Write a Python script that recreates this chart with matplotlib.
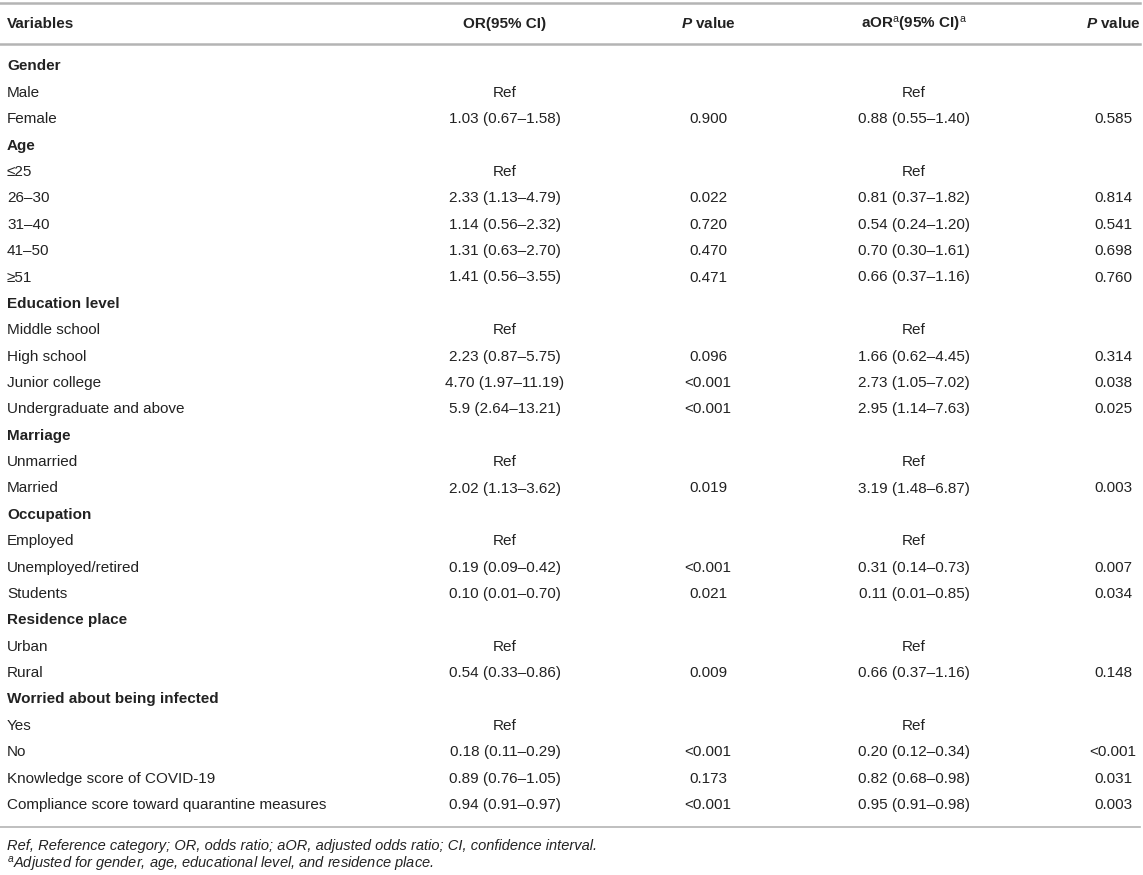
import matplotlib.pyplot as plt

plt.rcParams['font.family'] = ['Liberation Sans', 'DejaVu Sans']
plt.rcParams['mathtext.fontset'] = 'custom'
plt.rcParams['mathtext.rm'] = 'Liberation Sans'
plt.rcParams['mathtext.it'] = 'Liberation Sans:italic'
plt.rcParams['mathtext.bf'] = 'Liberation Sans:bold'
plt.rcParams['mathtext.bfit'] = 'Liberation Sans:italic:bold'

# Table content (section headers have empty value cells)
headers = ["Variables", "OR(95% CI)", "$\\mathbfit{P}$ value",
           "aOR$^{\\mathrm{a}}$(95% CI)$^{\\mathrm{a}}$", "$\\mathbfit{P}$ value"]

variables = ["Gender", "Male", "Female",
             "Age", "≤25", "26–30", "31–40", "41–50", "≥51",
             "Education level", "Middle school", "High school", "Junior college",
             "Undergraduate and above",
             "Marriage", "Unmarried", "Married",
             "Occupation", "Employed", "Unemployed/retired", "Students",
             "Residence place", "Urban", "Rural",
             "Worried about being infected", "Yes", "No",
             "Knowledge score of COVID-19",
             "Compliance score toward quarantine measures"]

is_section = [True, False, False,
              True, False, False, False, False, False,
              True, False, False, False, False,
              True, False, False,
              True, False, False, False,
              True, False, False,
              True, False, False, False, False]

or_ci = ["", "Ref", "1.03 (0.67–1.58)",
         "", "Ref", "2.33 (1.13–4.79)", "1.14 (0.56–2.32)", "1.31 (0.63–2.70)", "1.41 (0.56–3.55)",
         "", "Ref", "2.23 (0.87–5.75)", "4.70 (1.97–11.19)", "5.9 (2.64–13.21)",
         "", "Ref", "2.02 (1.13–3.62)",
         "", "Ref", "0.19 (0.09–0.42)", "0.10 (0.01–0.70)",
         "", "Ref", "0.54 (0.33–0.86)",
         "", "Ref", "0.18 (0.11–0.29)", "0.89 (0.76–1.05)", "0.94 (0.91–0.97)"]

p_or = ["", "", "0.900",
        "", "", "0.022", "0.720", "0.470", "0.471",
        "", "", "0.096", "<0.001", "<0.001",
        "", "", "0.019",
        "", "", "<0.001", "0.021",
        "", "", "0.009",
        "", "", "<0.001", "0.173", "<0.001"]

aor_ci = ["", "Ref", "0.88 (0.55–1.40)",
          "", "Ref", "0.81 (0.37–1.82)", "0.54 (0.24–1.20)", "0.70 (0.30–1.61)", "0.66 (0.37–1.16)",
          "", "Ref", "1.66 (0.62–4.45)", "2.73 (1.05–7.02)", "2.95 (1.14–7.63)",
          "", "Ref", "3.19 (1.48–6.87)",
          "", "Ref", "0.31 (0.14–0.73)", "0.11 (0.01–0.85)",
          "", "Ref", "0.66 (0.37–1.16)",
          "", "Ref", "0.20 (0.12–0.34)", "0.82 (0.68–0.98)", "0.95 (0.91–0.98)"]

p_aor = ["", "", "0.585",
         "", "", "0.814", "0.541", "0.698", "0.760",
         "", "", "0.314", "0.038", "0.025",
         "", "", "0.003",
         "", "", "0.007", "0.034",
         "", "", "0.148",
         "", "", "<0.001", "0.031", "0.003"]

footnotes = ["Ref, Reference category; OR, odds ratio; aOR, adjusted odds ratio; CI, confidence interval.",
             "$^{a}$Adjusted for gender, age, educational level, and residence place."]

W, H = 1143, 875
fig = plt.figure(figsize=(W / 100, H / 100), dpi=100)
ax = fig.add_axes([0, 0, 1, 1])
ax.set_xlim(0, W)
ax.set_ylim(H, 0)
ax.axis("off")

col_x = [7, 505, 708, 914, 1113]
text_color = "#222222"
line_color = "#b4b4b4"
fs = 11

# rules
ax.plot([0, 1140], [3, 3], color=line_color, lw=1.8)
ax.plot([0, 1140], [44, 44], color=line_color, lw=1.8)
ax.plot([0, 1140], [827, 827], color=line_color, lw=1.2)

# header
header_y = 24
for i, h in enumerate(headers):
    ax.text(col_x[i], header_y, h, ha="left" if i == 0 else "center", va="center",
            fontsize=fs, fontweight="bold", color=text_color)

# body rows
y0, step = 66.5, 26.375
columns = [or_ci, p_or, aor_ci, p_aor]
for r, name in enumerate(variables):
    y = y0 + r * step
    ax.text(col_x[0], y, name, ha="left", va="center", fontsize=fs,
            fontweight="bold" if is_section[r] else "normal", color=text_color)
    for c, col in enumerate(columns):
        if col[r]:
            ax.text(col_x[c + 1], y, col[r], ha="center", va="center",
                    fontsize=fs, color=text_color)

# footnotes
ax.text(col_x[0], 846, footnotes[0], ha="left", va="center", fontsize=10.5,
        style="italic", color=text_color)
ax.text(col_x[0], 865, footnotes[1], ha="left", va="center", fontsize=10.5,
        style="italic", color=text_color)

fig.savefig("out.png", dpi=100)
